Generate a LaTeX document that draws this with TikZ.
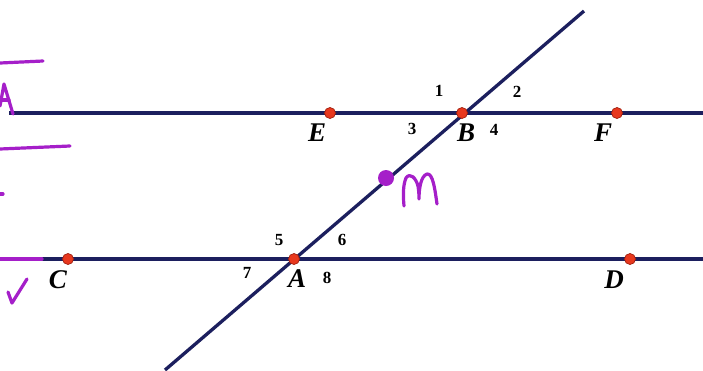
\documentclass[tikz,border=0pt]{standalone}
\usepackage{fontspec}
\setmainfont{Liberation Serif}
\begin{document}
\begin{tikzpicture}[x=1pt,y=-1pt,
  geoline/.style={draw=navyline,line width=3.3pt},
  pt/.style={circle,fill=ptred,draw=ptedge,line width=0.7pt,inner sep=0pt,minimum size=11pt},
  lbl/.style={font=\fontsize{27}{27}\selectfont\bfseries\itshape,text=black,inner sep=0pt},
  num/.style={font=\fontsize{17}{17}\selectfont\bfseries,text=black,inner sep=0pt},
  ink/.style={draw=inkpurple,line width=3.2pt,line cap=round,line join=round}]
\definecolor{navyline}{HTML}{1C1F5E}
\definecolor{ptred}{HTML}{E8381E}
\definecolor{ptedge}{HTML}{A02010}
\definecolor{inkpurple}{HTML}{A51FC9}
\useasboundingbox (0,0) rectangle (703,370);
\fill[white] (0,0) rectangle (703,370);
% coordinates
\coordinate (L1) at (9,113);
\coordinate (R1) at (703,113);
\coordinate (L2) at (9,259);
\coordinate (R2) at (703,259);
\coordinate (T0) at (165,370);
\coordinate (T1) at (584,11);
% lines
\draw[geoline] (L1) -- (R1);
\draw[geoline] (L2) -- (R2);
\draw[geoline] (T0) -- (T1);
% points
\node[pt] (E) at (330,113) {};
\node[pt] (B) at (462,113) {};
\node[pt] (F) at (617,113) {};
\node[pt] (C) at (68,259) {};
\node[pt] (A) at (294,259) {};
\node[pt] (D) at (630,259) {};
% letter labels
\node[lbl] (lE) at (317,133) {E};
\node[lbl] (lB) at (466,133) {B};
\node[lbl] (lF) at (603,133) {F};
\node[lbl] (lC) at (58,280) {C};
\node[lbl] (lA) at (297,279) {A};
\node[lbl] (lD) at (614,280) {D};
% angle numbers
\node[num] (n1) at (439,91) {1};
\node[num] (n2) at (517,92) {2};
\node[num] (n3) at (412,129) {3};
\node[num] (n4) at (494,130) {4};
\node[num] (n5) at (279,240) {5};
\node[num] (n6) at (342,240) {6};
\node[num] (n7) at (247,273) {7};
\node[num] (n8) at (327,278) {8};
% handwritten purple marks
\fill[inkpurple] (386,178) circle (8);
\node[inner sep=0pt] (M) at (386,178) {};
\draw[ink] (0,63) -- (43,61);
\draw[ink] (0,106) -- (4,84) -- (13,114);
\draw[ink] (0,100) -- (9,100);
\draw[ink] (0,149) -- (70,146);
\draw[ink] (0,194) -- (3,194);
\draw[ink] (0,259) -- (42,259);
\draw[ink] (8,292) -- (12,303) -- (27,279);
\draw[ink] (404,206) .. controls (403,195) and (403,185) .. (406,178)
  .. controls (410,172) and (416,178) .. (418,186)
  .. controls (419,192) and (419,197) .. (419,199)
  .. controls (419,188) and (421,176) .. (427,174)
  .. controls (433,173) and (435,190) .. (437,204);
\end{tikzpicture}
\end{document}
